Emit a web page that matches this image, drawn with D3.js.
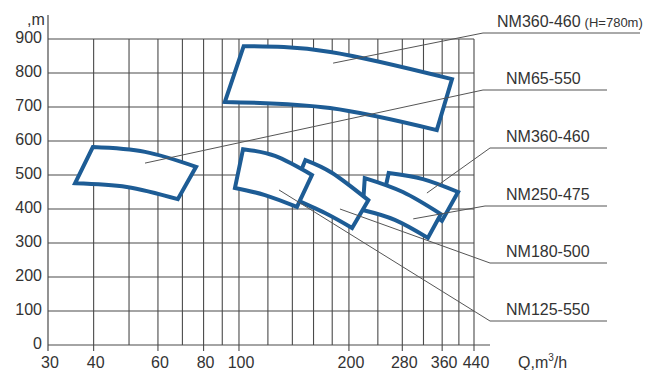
<!DOCTYPE html>
<html><head><meta charset="utf-8">
<script src="https://cdn.jsdelivr.net/npm/d3@7"></script>
<style>
body{margin:0;background:#fff;}
svg{display:block;font-family:"Liberation Sans",Arial,Helvetica,sans-serif;}
</style>
</head><body>
<svg id="chart" width="654" height="370"></svg>
<script>
// ---- data ----
const models = ["NM360-460", "NM65-550", "NM360-460", "NM250-475", "NM180-500", "NM125-550"];
const modelNotes = ["(H=780m)", "", "", "", "", ""];
const gridQ = [30, 40, 50, 60, 70, 80, 90, 100, 120, 140, 160, 180, 200, 240, 280, 320, 360, 400, 440];
const labelQ = [30, 40, 60, 80, 100, 200, 280, 360, 440];
const headTicks = [0, 100, 200, 300, 400, 500, 600, 700, 800, 900];
// operating fields: top curve (left, mid, right) and bottom curve (left, mid, right)
const topQ = [[103, 178, 383], [39.8, 55.3, 76.3], [257, 319, 398], [221, 281, 357], [152, 180, 226], [102.6, 125.5, 158.4]];
const topH = [[879, 862, 782], [582, 568, 524], [506, 488, 450], [491, 450, 385], [544, 506, 426], [576, 556, 500]];
const botQ = [[91.5, 177.5, 348], [35.6, 49.3, 68], [251, 299.5, 359.5], [218, 267, 329], [138, 172, 204], [97.5, 117.8, 144.1]];
const botH = [[715, 697, 632], [476, 465, 429], [456, 421, 365], [397, 368, 315], [435, 388, 344], [462, 441, 406]];
// leader line anchor inside each field
const anchorQ = [181, 55.3, 327, 300, 189, 128.7];
const anchorH = [829, 535, 447, 371, 400, 456];

// ---- layout ----
const W = 654, H = 370;
const x = d3.scaleLog().domain([30, 440]).range([48, 474]);
const y = d3.scaleLinear().domain([0, 900]).range([345, 39]);
const calloutY = [33, 90, 148, 206, 263, 321];
const elbowX = [483, 483, 490, 485, 490, 490];
const lineEndX = [640, 607, 607, 607, 607, 607];
const textX = [497, 506, 506, 506, 506, 506];

const gridCol = "#4a4a4a", textCol = "#333", blue = "#1d5c95";
const svg = d3.select("#chart");

// grid
const g = svg.append("g");
g.selectAll("line.v").data(gridQ.slice(1)).join("line")
  .attr("x1", d => x(d)).attr("x2", d => x(d))
  .attr("y1", y(900)).attr("y2", d => labelQ.includes(d) ? y(0) + 6 : y(0))
  .attr("stroke", gridCol).attr("stroke-width", 1.1);
g.selectAll("line.h").data(headTicks.slice(1)).join("line")
  .attr("x1", x(30)).attr("x2", x(440))
  .attr("y1", d => y(d)).attr("y2", d => y(d))
  .attr("stroke", gridCol).attr("stroke-width", 1.1);
// axes
svg.append("line").attr("x1", x(30)).attr("x2", 490).attr("y1", y(0)).attr("y2", y(0))
  .attr("stroke", gridCol).attr("stroke-width", 1.2);
svg.append("line").attr("x1", x(30)).attr("x2", x(30)).attr("y1", 15).attr("y2", y(0) + 6)
  .attr("stroke", gridCol).attr("stroke-width", 1.2);

// tick labels
svg.selectAll("text.yt").data(headTicks).join("text")
  .attr("x", 42).attr("y", d => y(d) + 4)
  .attr("text-anchor", "end").attr("font-size", 16).attr("fill", textCol)
  .text(d => d);
svg.selectAll("text.xt").data(labelQ).join("text")
  .attr("x", d => x(d) + 2).attr("y", y(0) + 23)
  .attr("text-anchor", "middle").attr("font-size", 16).attr("fill", textCol)
  .text(d => d);
svg.append("text").attr("x", 27).attr("y", 25).attr("font-size", 16).attr("fill", textCol).text(",m");
const ql = svg.append("text").attr("x", 518).attr("y", 368).attr("font-size", 16).attr("fill", textCol);
ql.append("tspan").text("Q,m");
ql.append("tspan").attr("font-size", 10).attr("dy", -7).text("3");
ql.append("tspan").attr("dy", 7).text("/h");

// fields
const curve = d3.line().x(p => x(p[0])).y(p => y(p[1])).curve(d3.curveNatural);
models.forEach((m, i) => {
  const top = topQ[i].map((q, k) => [q, topH[i][k]]);
  const bot = botQ[i].map((q, k) => [q, botH[i][k]]).reverse();
  const d = curve(top) + curve(bot).replace(/^M/, "L") + "Z";
  svg.append("path").attr("d", d).attr("fill", "#fff")
    .attr("stroke", blue).attr("stroke-width", 4).attr("stroke-linejoin", "miter");
});

// callouts
models.forEach((m, i) => {
  svg.append("polyline")
    .attr("points", [[x(anchorQ[i]), y(anchorH[i])], [elbowX[i], calloutY[i]], [lineEndX[i], calloutY[i]]].map(p => p.join(",")).join(" "))
    .attr("fill", "none").attr("stroke", "#555").attr("stroke-width", 1);
  const t = svg.append("text").attr("x", textX[i]).attr("y", calloutY[i] - 6)
    .attr("font-size", 16).attr("fill", textCol);
  t.append("tspan").text(m);
  if (modelNotes[i]) t.append("tspan").attr("font-size", 13).attr("dx", 4).text(modelNotes[i]);
});
</script>
</body></html>
